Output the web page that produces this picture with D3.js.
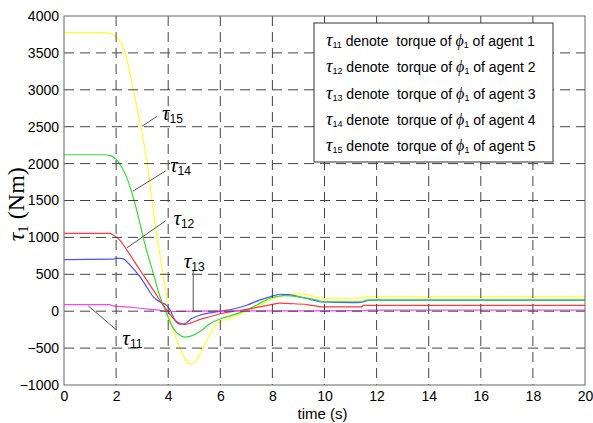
<!DOCTYPE html>
<html>
<head>
<meta charset="utf-8">
<script src="https://cdn.jsdelivr.net/npm/d3@7"></script>
<style>
  html, body { margin: 0; padding: 0; background: #fff; }
  svg { display: block; }
  .tick-label { font-family: Arial, "Liberation Sans", sans-serif; font-size: 14px; fill: #000; }
</style>
</head>
<body>
<svg id="chart" width="593" height="423"></svg>
<script>
// Time axis (s) and torque axis (Nm) ticks
const xTicks = [0, 2, 4, 6, 8, 10, 12, 14, 16, 18, 20];
const yTicks = [-1000, -500, 0, 500, 1000, 1500, 2000, 2500, 3000, 3500, 4000];

// Torque of phi_1 for each agent: [time (s), torque (Nm)]
const tau11 = [[0,90],[1.75,90],[1.85,76],[2.66,50],[3.3,26],[3.69,12],[4.0,-4],[5.0,0],[8,4],[11.5,8],[11.7,14],[20,14]];
const tau12 = [[0,1055],[1.75,1055],[1.9,1030],[2.15,960],[2.41,830],[2.92,555],[3.43,285],[3.81,80],[4.0,-10],[4.2,-100],[4.45,-165],[4.64,-180],[4.9,-155],[5.22,-110],[5.6,-75],[6.0,-35],[7.0,25],[7.91,85],[8.3,110],[8.55,105],[9.32,90],[9.95,58],[11.4,58],[11.5,78],[20,78]];
const tau13 = [[0,700],[1.9,705],[2.0,715],[2.15,715],[2.28,710],[2.41,670],[2.66,578],[2.92,465],[3.17,330],[3.43,195],[3.69,125],[3.94,80],[4.07,15],[4.26,-120],[4.45,-175],[4.64,-168],[4.9,-100],[5.22,-55],[6.0,0],[6.5,30],[7.01,80],[7.5,150],[7.91,195],[8.29,230],[8.6,225],[9.32,172],[9.95,126],[11.1,117],[11.4,120],[11.75,149],[20,149]];
const tau14 = [[0,2120],[1.5,2120],[1.8,2105],[2.0,2060],[2.2,1960],[2.41,1810],[2.66,1540],[2.91,1200],[3.04,1000],[3.43,510],[3.69,190],[3.94,-30],[4.2,-235],[4.45,-325],[4.64,-350],[4.9,-335],[5.22,-275],[5.6,-170],[6.0,-105],[6.4,-60],[6.76,-20],[7.4,85],[7.91,175],[8.42,210],[9.06,190],[9.7,150],[9.95,128],[11.4,128],[11.6,150],[20,150]];
const tau15 = [[0,3775],[1.5,3775],[1.8,3765],[2.0,3715],[2.2,3630],[2.4,3430],[2.66,3000],[2.94,2510],[3.24,1900],[3.43,1350],[3.62,900],[3.81,480],[3.94,180],[4.07,-90],[4.33,-390],[4.58,-600],[4.84,-715],[5.09,-665],[5.22,-580],[5.48,-400],[5.73,-230],[6.0,-150],[6.4,-90],[6.76,-40],[7.27,35],[7.91,150],[8.55,220],[9.06,235],[9.57,205],[9.95,175],[11.3,175],[11.5,195],[20,195]];

const seriesNames = ["11", "12", "13", "14", "15"];
const seriesColors = ["#ff40ff", "#ff3838", "#5050ff", "#30e030", "#ffff30"];
const seriesData = [tau11, tau12, tau13, tau14, tau15];
// drawing order (back to front)
const drawOrder = [4, 2, 3, 1, 0];

// In-plot labels: subscript, text anchor point, leader line from -> to (data units)
const labelSubs = ["15", "14", "12", "13", "11"];
const labelPos = [[3.76, 2590], [4.07, 1880], [4.2, 1165], [4.6, 585], [2.24, -460]];
const leaderFrom = [[3.57, 2640], [3.9, 1900], [3.9, 1225], [4.96, 560], [2.02, -255]];
const leaderTo = [[2.99, 2505], [2.64, 1625], [2.41, 858], [4.96, -15], [0.93, 72]];

const legendRows = ["1", "2", "3", "4", "5"];

const W = 593, H = 423;
const margin = { left: 64, right: 8, top: 16, bottom: 38 };
const svg = d3.select("#chart");

const x = d3.scaleLinear().domain([0, 20]).range([margin.left, W - margin.right]);
const y = d3.scaleLinear().domain([-1000, 4000]).range([H - margin.bottom, margin.top]);

const clipId = "plot-clip";
svg.append("defs").append("clipPath").attr("id", clipId)
  .append("rect")
  .attr("x", x(0)).attr("y", y(4000))
  .attr("width", x(20) - x(0)).attr("height", y(-1000) - y(4000));

// Curves
const line = d3.line().x(d => x(d[0])).y(d => y(d[1])).curve(d3.curveMonotoneX);
const curves = svg.append("g").attr("clip-path", `url(#${clipId})`);
drawOrder.forEach(i => {
  curves.append("path")
    .datum(seriesData[i])
    .attr("d", line)
    .attr("fill", "none")
    .attr("stroke", seriesColors[i])
    .attr("stroke-width", 1.2);
});

// Dashed grid drawn over the curves
const grid = svg.append("g");
grid.selectAll("line.vg").data(xTicks.slice(1, -1)).join("line")
  .attr("x1", d => x(d)).attr("x2", d => x(d))
  .attr("y1", y(4000)).attr("y2", y(-1000))
  .attr("stroke", "#444").attr("stroke-width", 1).attr("stroke-dasharray", "10,6");
grid.selectAll("line.hg").data(yTicks.slice(1, -1)).join("line")
  .attr("y1", d => y(d)).attr("y2", d => y(d))
  .attr("x1", x(0)).attr("x2", x(20))
  .attr("stroke", "#444").attr("stroke-width", 1).attr("stroke-dasharray", "10,6");

// Axes
const fmt = d3.format("d");
const xAxis = d3.axisBottom(x).tickValues(xTicks).tickFormat(fmt).tickSize(0).tickPadding(6);
const yAxis = d3.axisLeft(y).tickValues(yTicks).tickFormat(fmt).tickSize(0).tickPadding(5);
const gx = svg.append("g").attr("transform", `translate(0,${y(-1000)})`).call(xAxis);
const gy = svg.append("g").attr("transform", `translate(${x(0)},0)`).call(yAxis);
[gx, gy].forEach(g => {
  g.select(".domain").remove();
  g.selectAll("text").attr("class", "tick-label").attr("font-size", null).attr("font-family", null);
});
gx.selectAll("text").attr("dy", "0.71em");

// Frame
svg.append("rect")
  .attr("x", x(0)).attr("y", y(4000))
  .attr("width", x(20) - x(0)).attr("height", y(-1000) - y(4000))
  .attr("fill", "none").attr("stroke", "#666").attr("stroke-width", 1);

// Axis titles
svg.append("text")
  .attr("x", (x(0) + x(20)) / 2 - 2).attr("y", 419)
  .attr("text-anchor", "middle")
  .attr("font-family", "Arial, 'Liberation Sans', sans-serif")
  .attr("font-size", 15)
  .text("time (s)");

const yTitle = svg.append("text")
  .attr("transform", `translate(24,${y(1450)}) rotate(-90)`)
  .attr("text-anchor", "middle")
  .attr("font-family", "'Times New Roman', 'Liberation Serif', serif")
  .attr("font-size", 24);
yTitle.append("tspan").attr("font-style", "italic").text("τ");
yTitle.append("tspan").attr("font-size", 15).attr("dy", 4).text("1");
yTitle.append("tspan").attr("dy", -4).text(" (Nm)");

// In-plot labels with leader lines
const ann = svg.append("g");
labelSubs.forEach((s, i) => {
  ann.append("line")
    .attr("x1", x(leaderFrom[i][0])).attr("y1", y(leaderFrom[i][1]))
    .attr("x2", x(leaderTo[i][0])).attr("y2", y(leaderTo[i][1]))
    .attr("stroke", "#555").attr("stroke-width", 1);
  const t = ann.append("text")
    .attr("x", x(labelPos[i][0])).attr("y", y(labelPos[i][1]));
  t.append("tspan")
    .attr("font-family", "'Times New Roman', 'Liberation Serif', serif")
    .attr("font-style", "italic").attr("font-size", 21).text("τ");
  t.append("tspan")
    .attr("font-family", "Arial, 'Liberation Sans', sans-serif")
    .attr("font-size", 12).attr("dy", 3).text(s);
});

// Legend
const lg = svg.append("g");
const lgX = 314, lgY = 23, lgW = 239, lgH = 139;
lg.append("rect")
  .attr("x", lgX).attr("y", lgY).attr("width", lgW).attr("height", lgH)
  .attr("fill", "#fff").attr("stroke", "#333").attr("stroke-width", 1);
legendRows.forEach((r, i) => {
  const ty = lgY + 23 + i * 26.3;
  const t = lg.append("text").attr("x", lgX + 12).attr("y", ty)
    .attr("font-family", "Arial, 'Liberation Sans', sans-serif").attr("font-size", 14)
    .attr("xml:space", "preserve");
  t.append("tspan").attr("font-family", "'Times New Roman', 'Liberation Serif', serif")
    .attr("font-style", "italic").attr("font-size", 18).text("τ");
  t.append("tspan").attr("font-size", 9).attr("dy", 2).text("1" + r);
  t.append("tspan").attr("dy", -2).text(" denote  torque of ");
  t.append("tspan").attr("font-family", "'Times New Roman', 'Liberation Serif', serif")
    .attr("font-style", "italic").attr("font-size", 16).text("ϕ");
  t.append("tspan").attr("font-size", 9).attr("dy", 2).text("1");
  t.append("tspan").attr("dy", -2).text(" of agent " + r);
});
</script>
</body>
</html>
